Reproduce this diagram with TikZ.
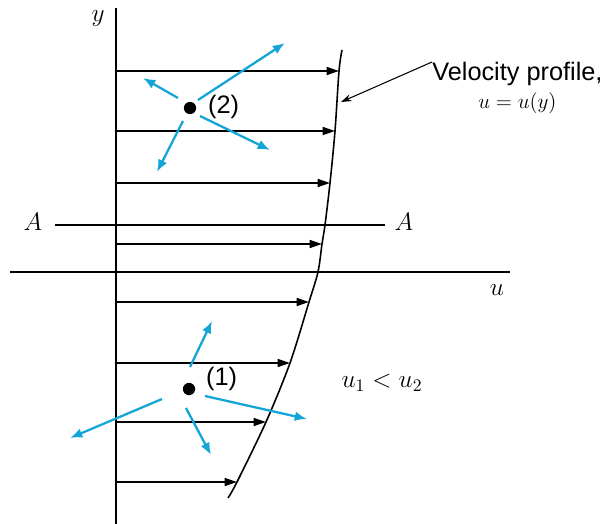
\documentclass[tikz,border=0pt]{standalone}
\usepackage{fontspec}
\setsansfont{Liberation Sans}
\usepackage{tikz}
\usetikzlibrary{arrows.meta}

\definecolor{swirl}{RGB}{20,165,215}

\begin{document}
\begin{tikzpicture}[
  x=0.02cm, y=-0.02cm,
  axis/.style={line width=0.8pt},
  vel/.style={line width=1pt, -{Triangle[length=7pt, width=4.5pt]}},
  eddy/.style={swirl, line width=1.3pt, -{Latex[length=7pt, width=5.5pt]}},
  lab/.style={font=\Large},
  txt/.style={font=\sffamily\Large},
  dot/.style={circle, fill, inner sep=0pt, minimum size=7pt}
]
\useasboundingbox (0,0) rectangle (609,524);

% axes and section A-A
\draw[axis] (116,8) -- (116,524);
\draw[axis] (10,272) -- (510,272);
\draw[axis] (55,225) -- (385,225);
\node[lab] (ylab) at (98,19) {$y$};
\node[lab] (ulab) at (497,290) {$u$};
\node[lab] (a1) at (33,222) {$A$};
\node[lab] (a2) at (404,222) {$A$};

% velocity profile
\draw[line width=0.9pt] plot[smooth] coordinates {(342,50) (339,71) (335,131) (330,183) (325,225) (322,244) (318,272) (309,302) (290,363) (266,422) (237,482) (228,498)};
\foreach \y/\u in {71/339, 131/335, 183/330, 244/322, 302/309, 363/290, 422/266, 482/237}
  \draw[vel] (116,\y) -- (\u,\y);

\node[txt, anchor=north west, inner sep=0pt, align=center] (vp) at (432,62) {Velocity profile,\\[-2pt] {\large $u = u(y)$}};
\draw[line width=0.6pt, -{Stealth[length=6pt, width=4pt]}] (vp.north west) -- (341,102);

% fluid particle (2)
\node[dot] (p2) at (190,108) {};
\node[txt, anchor=west] (l2) at (202,107) {(2)};
\draw[eddy] (198,100) -- (285,43);
\draw[eddy] (178,98) -- (143,78);
\draw[eddy] (200,116) -- (270,150);
\draw[eddy] (183,121) -- (157,172);

% fluid particle (1)
\node[dot] (p1) at (189,389) {};
\node[txt, anchor=west] (l1) at (200,379) {(1)};
\draw[eddy] (190,367) -- (212,321);
\draw[eddy] (162,399) -- (70,438);
\draw[eddy] (205,396) -- (307,419);
\draw[eddy] (186,408) -- (211,455);

\node[lab] (cmp) at (382,383) {$u_1 < u_2$};
\end{tikzpicture}
\end{document}
